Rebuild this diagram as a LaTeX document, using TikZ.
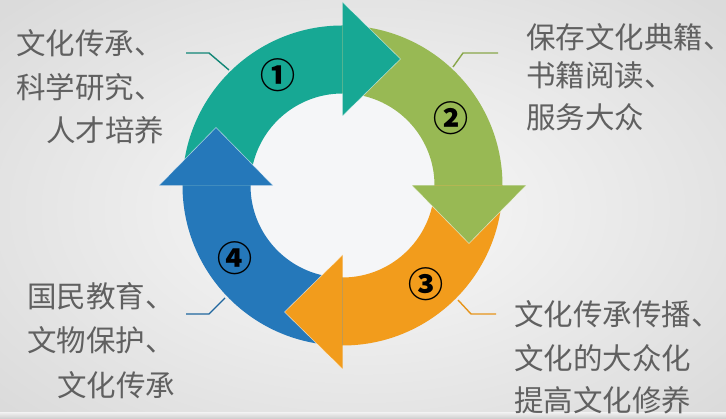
\documentclass[tikz,border=0pt]{standalone}
\usepackage{fontspec}
\newfontfamily\cjk{Noto Sans CJK SC}
\newcommand\dunhao{\makebox[0.45em][l]{、}}
\definecolor{cteal}{HTML}{17A894}
\definecolor{cgreen}{HTML}{98B954}
\definecolor{corange}{HTML}{F29C1C}
\definecolor{cblue}{HTML}{2578BA}
\definecolor{ctext}{HTML}{606060}
\definecolor{cinner}{HTML}{F5F6F8}
\begin{document}
\begin{tikzpicture}[x=1pt,y=1pt,
  lbl/.style={anchor=west,inner sep=0pt,text=ctext,font=\cjk\fontsize{29.5}{29.5}\selectfont},
  num/.style={inner sep=0pt,text=black,font=\cjk\bfseries\fontsize{35}{35}\selectfont},
  callout/.style={line width=1.4pt},
  headedge/.style={draw=white,draw opacity=0.6,line width=0.6pt,line join=round}]
\useasboundingbox (0,0) rectangle (726,419);
\shade[inner color=white!98!black,outer color=white!86!black] (-120,-80) rectangle (846,499);
\shade[top color=white!93!black,bottom color=white!80!black] (0,0) rectangle (726,6);
% ring arrows (centre at 342.5,233.5)
\begin{scope}[shift={(342.5,233.5)}]
  \fill[cinner] (0,0) circle[radius=93];
  % bodies
  \fill[cteal]   (180:92) -- (180:160) arc[start angle=180,end angle=90,radius=160] -- (90:92) arc[start angle=90,end angle=180,radius=92] -- cycle;
  \fill[cgreen]  (90:92) -- (90:160) arc[start angle=90,end angle=0,radius=160] -- (0:92) arc[start angle=0,end angle=90,radius=92] -- cycle;
  \fill[corange] (0:92) -- (0:160) arc[start angle=0,end angle=-90,radius=160] -- (-90:92) arc[start angle=-90,end angle=0,radius=92] -- cycle;
  \fill[cblue]   (-90:92) -- (-90:160) arc[start angle=-90,end angle=-180,radius=160] -- (180:92) arc[start angle=180,end angle=270,radius=92] -- cycle;
  % heads
  \fill[cteal] (0,69.5) -- (0,183.5) -- (58,126.5) -- cycle;
  \draw[headedge] (0,183.5) -- (58,126.5) -- (0,69.5);
  \fill[cgreen] (69.5,0) -- (183.5,0) -- (126.5,-58) -- cycle;
  \draw[headedge] (69.5,0) -- (126.5,-58) -- (183.5,0);
  \fill[corange] (0,-69.5) -- (0,-183.5) -- (-58,-126.5) -- cycle;
  \draw[headedge] (0,-69.5) -- (-58,-126.5) -- (0,-183.5);
  \fill[cblue] (-69.5,0) -- (-183.5,0) -- (-126.5,58) -- cycle;
  \draw[headedge] (-69.5,0) -- (-126.5,58) -- (-183.5,0);
\end{scope}
% circled numbers
\node[num] (n1) at (278,344) {①};
\node[num] (n2) at (451,301) {②};
\node[num] (n3) at (426,135) {③};
\node[num] (n4) at (235,161) {④};
% labels
\node[lbl] (tl1) at (16,375.5) {文化传承\dunhao};
\node[lbl] (tl2) at (16,331.5) {科学研究\dunhao};
\node[lbl] (tl3) at (46,288.5) {人才培养};
\node[lbl] (tr1) at (526,381.5) {保存文化典籍\dunhao};
\node[lbl] (tr2) at (526,344) {书籍阅读\dunhao};
\node[lbl] (tr3) at (526,301.5) {服务大众};
\node[lbl] (bl1) at (27,123) {国民教育\dunhao};
\node[lbl] (bl2) at (27,78.5) {文物保护\dunhao};
\node[lbl] (bl3) at (57,34) {文化传承};
\node[lbl] (br1) at (514,104.5) {文化传承传播\dunhao};
\node[lbl] (br2) at (514,60.5) {文化的大众化};
\node[lbl] (br3) at (514,19) {提高文化修养};
% callout lines
\coordinate (ta) at (186,366); \coordinate (tb) at (209,366); \coordinate (tc) at (229,349);
\coordinate (ga) at (453,352); \coordinate (gb) at (463,366); \coordinate (gc) at (498,366);
\coordinate (ba) at (186,105); \coordinate (bb) at (209,105); \coordinate (bc) at (225,121);
\coordinate (oa) at (458,119); \coordinate (ob) at (471,105); \coordinate (oc) at (496,105);
\draw[callout,cteal!80!black] (ta) -- (tb) -- (tc);
\draw[callout,cgreen!90!black] (ga) -- (gb) -- (gc);
\draw[callout,cblue!85!black] (ba) -- (bb) -- (bc);
\draw[callout,corange!95!black] (oa) -- (ob) -- (oc);
\end{tikzpicture}
\end{document}
